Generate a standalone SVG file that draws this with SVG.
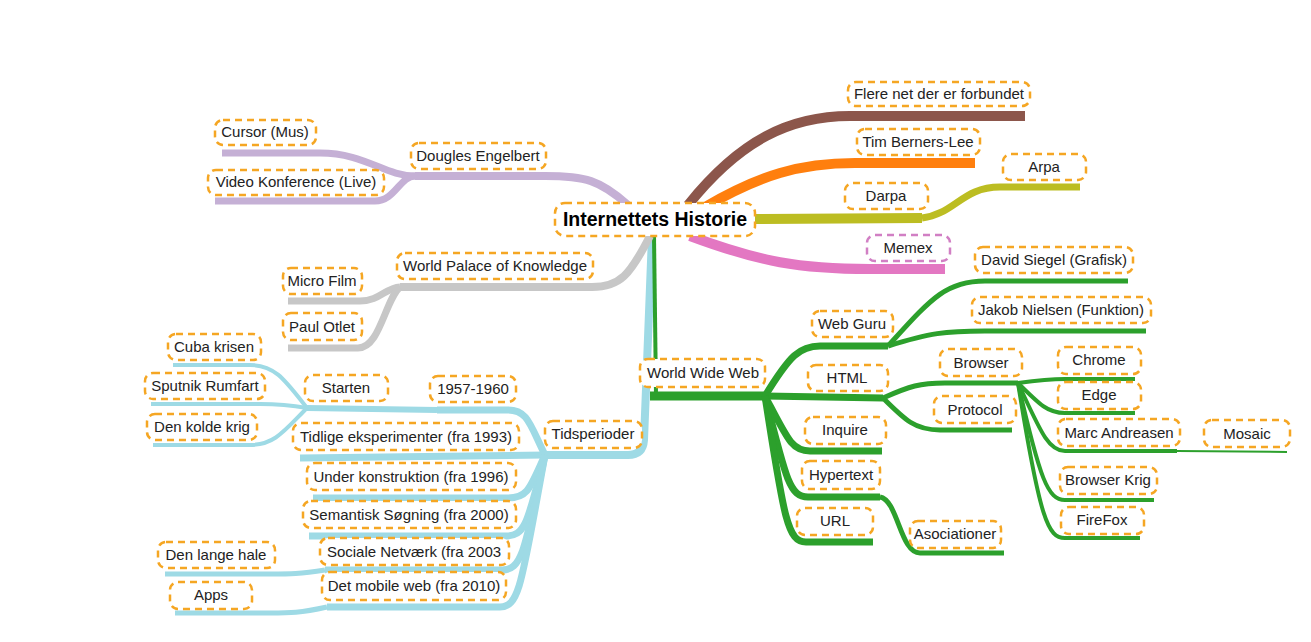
<svg xmlns="http://www.w3.org/2000/svg" width="1311" height="642" viewBox="0 0 1311 642">
<style>
.c path{fill:none;stroke-linecap:butt;stroke-linejoin:round}
.n rect{fill:#fff;stroke:#f5a623;stroke-width:2.5;stroke-dasharray:7 5}
.n text{font-family:"Liberation Sans",Arial,sans-serif;font-size:15px;fill:#222;text-anchor:middle}
.n.pk rect{stroke:#d17fc4}
#root text{font-size:19.5px;font-weight:bold;fill:#000}
.br{stroke:#8c564b}.or{stroke:#ff7f0e}.ol{stroke:#bcbd22}.pi{stroke:#e377c2}
.li{stroke:#c5b0d5}.gr{stroke:#c7c7c7}.lb{stroke:#9edae5}.gn{stroke:#2ca02c}
</style>
<rect width="1311" height="642" fill="#fff"/>
<g class="c" id="connectors">
<path class="lb" stroke-width="8" d="M 652 236 L 644 440 Q 643 455 628 455 L 545 455"/>
<path class="gn" stroke-width="4" d="M 654 236 L 656 394"/>
<path class="gn" stroke-width="9" d="M 650 396 L 765 396"/>
<path class="br" stroke-width="10" d="M 688 205 C 740 140, 790 116, 850 116 L 1025 116"/>
<path class="or" stroke-width="10" d="M 705 207 C 760 175, 800 163, 855 163 L 975 163"/>
<path class="ol" stroke-width="10" d="M 755 219 L 922 218"/>
<path class="ol" stroke-width="7" d="M 922 218 C 955 214, 962 187, 1000 187 L 1080 187"/>
<path class="pi" stroke-width="10" d="M 690 236 C 760 262, 800 269, 870 269 L 945 269"/>
<path class="li" stroke-width="8" d="M 628 205 C 600 180, 585 176, 545 176 L 415 176"/>
<path class="li" stroke-width="7" d="M 415 176 C 385 176, 365 153, 320 153 L 222 153"/>
<path class="li" stroke-width="7" d="M 415 176 C 400 176, 395 201, 375 201 L 215 201"/>
<path class="gr" stroke-width="8" d="M 650 236 C 630 275, 620 287, 592 287 L 400 287"/>
<path class="gr" stroke-width="7" d="M 400 287 C 385 288, 380 301, 360 301 L 288 301"/>
<path class="gr" stroke-width="7" d="M 400 287 C 385 300, 380 348, 358 348 L 288 348"/>
<path class="lb" stroke-width="7" d="M 545 455 C 530 425, 528 410, 508 410 L 437 410"/>
<path class="lb" stroke-width="6" d="M 437 410 L 307 408"/>
<path class="lb" stroke-width="4" d="M 307 408 C 285 380, 275 365, 250 365 L 173 365"/>
<path class="lb" stroke-width="4" d="M 307 408 C 290 405, 280 404, 260 404 L 151 404"/>
<path class="lb" stroke-width="4" d="M 307 408 C 285 430, 275 445, 250 445 L 153 445"/>
<path class="lb" stroke-width="7" d="M 545 455 L 300 458"/>
<path class="lb" stroke-width="7" d="M 545 455 C 530 488, 528 498, 508 498 L 313 498"/>
<path class="lb" stroke-width="7" d="M 545 455 C 528 520, 526 536, 506 536 L 309 536"/>
<path class="lb" stroke-width="7" d="M 545 455 C 525 550, 522 570, 502 570 L 325 570"/>
<path class="lb" stroke-width="5" d="M 325 570 C 300 574, 290 574, 270 574 L 165 574"/>
<path class="lb" stroke-width="7" d="M 545 455 C 522 580, 520 607, 500 607 L 327 607"/>
<path class="lb" stroke-width="5" d="M 327 607 C 300 613, 290 613, 270 613 L 175 613"/>
<path class="gn" stroke-width="7" d="M 765 396 C 790 355, 800 346, 820 346 L 888 346"/>
<path class="gn" stroke-width="5" d="M 888 346 C 930 300, 945 281, 985 281 L 1128 281"/>
<path class="gn" stroke-width="5" d="M 888 346 C 930 333, 945 331, 985 331 L 1146 331"/>
<path class="gn" stroke-width="7" d="M 765 396 L 883 398"/>
<path class="gn" stroke-width="5" d="M 883 398 C 910 386, 920 383, 945 383 L 1018 383"/>
<path class="gn" stroke-width="5" d="M 883 398 C 905 420, 915 430, 940 430 L 1012 430"/>
<path class="gn" stroke-width="4" d="M 1018 383 C 1040 380, 1050 379, 1065 379 L 1135 379"/>
<path class="gn" stroke-width="4" d="M 1018 383 C 1040 405, 1048 413, 1065 413 L 1135 413"/>
<path class="gn" stroke-width="4" d="M 1018 383 C 1040 430, 1048 451, 1065 451 L 1177 451"/>
<path class="gn" stroke-width="2" d="M 1177 451 L 1287 452"/>
<path class="gn" stroke-width="4" d="M 1018 383 C 1040 480, 1048 500, 1065 500 L 1154 500"/>
<path class="gn" stroke-width="4" d="M 1018 383 C 1040 520, 1048 538, 1065 538 L 1140 538"/>
<path class="gn" stroke-width="7" d="M 765 396 C 788 440, 792 451, 810 451 L 882 451"/>
<path class="gn" stroke-width="7" d="M 765 396 C 786 480, 790 497, 808 497 L 880 497"/>
<path class="gn" stroke-width="5" d="M 880 497 C 898 500, 900 553, 920 553 L 1004 553"/>
<path class="gn" stroke-width="7" d="M 765 396 C 784 520, 788 542, 806 542 L 873 542"/>
</g>
<g class="n" id="root"><rect x="555" y="203" width="200" height="33" rx="10"/><text x="655" y="226">Internettets Historie</text></g>
<g class="n" id="n-flere"><rect x="848" y="82" width="182" height="24" rx="8"/><text x="939" y="99">Flere net der er forbundet</text></g>
<g class="n" id="n-tim"><rect x="857" y="129" width="123" height="26" rx="8"/><text x="918" y="147">Tim Berners-Lee</text></g>
<g class="n" id="n-darpa"><rect x="845" y="183" width="83" height="26" rx="8"/><text x="886" y="201">Darpa</text></g>
<g class="n" id="n-arpa"><rect x="1003" y="154" width="83" height="26" rx="8"/><text x="1044" y="172">Arpa</text></g>
<g class="n pk" id="n-memex"><rect x="867" y="235" width="83" height="26" rx="8"/><text x="908" y="253">Memex</text></g>
<g class="n" id="n-dougles"><rect x="411" y="143" width="135" height="26" rx="8"/><text x="478" y="161">Dougles Engelbert</text></g>
<g class="n" id="n-cursor"><rect x="215" y="120" width="101" height="25" rx="8"/><text x="265" y="137">Cursor (Mus)</text></g>
<g class="n" id="n-video"><rect x="208" y="170" width="176" height="25" rx="8"/><text x="296" y="187">Video Konference (Live)</text></g>
<g class="n" id="n-wpk"><rect x="397" y="253" width="196" height="26" rx="8"/><text x="495" y="271">World Palace of Knowledge</text></g>
<g class="n" id="n-micro"><rect x="283" y="268" width="79" height="26" rx="8"/><text x="322" y="286">Micro Film</text></g>
<g class="n" id="n-paul"><rect x="283" y="313" width="79" height="27" rx="8"/><text x="322" y="332">Paul Otlet</text></g>
<g class="n" id="n-tids"><rect x="545" y="421" width="97" height="27" rx="8"/><text x="593" y="439">Tidsperioder</text></g>
<g class="n" id="n-1957"><rect x="430" y="376" width="86" height="26" rx="8"/><text x="473" y="394">1957-1960</text></g>
<g class="n" id="n-starten"><rect x="305" y="375" width="83" height="26" rx="8"/><text x="346" y="393">Starten</text></g>
<g class="n" id="n-cuba"><rect x="168" y="334" width="93" height="26" rx="8"/><text x="214" y="352">Cuba krisen</text></g>
<g class="n" id="n-sputnik"><rect x="145" y="373" width="120" height="26" rx="8"/><text x="205" y="391">Sputnik Rumfart</text></g>
<g class="n" id="n-kolde"><rect x="147" y="414" width="110" height="26" rx="8"/><text x="202" y="432">Den kolde krig</text></g>
<g class="n" id="n-tidlige"><rect x="293" y="423" width="226" height="27" rx="8"/><text x="406" y="442">Tidlige eksperimenter (fra 1993)</text></g>
<g class="n" id="n-under"><rect x="307" y="463" width="209" height="27" rx="8"/><text x="411" y="482">Under konstruktion (fra 1996)</text></g>
<g class="n" id="n-semantisk"><rect x="303" y="501" width="213" height="27" rx="8"/><text x="409" y="520">Semantisk Søgning (fra 2000)</text></g>
<g class="n" id="n-sociale"><rect x="320" y="538" width="189" height="27" rx="8"/><text x="414" y="557">Sociale Netværk (fra 2003</text></g>
<g class="n" id="n-mobile"><rect x="322" y="572" width="184" height="28" rx="8"/><text x="414" y="591">Det mobile web (fra 2010)</text></g>
<g class="n" id="n-hale"><rect x="158" y="542" width="117" height="26" rx="8"/><text x="216" y="560">Den lange hale</text></g>
<g class="n" id="n-apps"><rect x="170" y="582" width="82" height="27" rx="8"/><text x="211" y="600">Apps</text></g>
<g class="n" id="n-www"><rect x="640" y="359" width="125" height="28" rx="8"/><text x="703" y="378">World Wide Web</text></g>
<g class="n" id="n-webguru"><rect x="812" y="311" width="81" height="26" rx="8"/><text x="852" y="329">Web Guru</text></g>
<g class="n" id="n-david"><rect x="975" y="247" width="158" height="26" rx="8"/><text x="1054" y="265">David Siegel (Grafisk)</text></g>
<g class="n" id="n-jakob"><rect x="972" y="297" width="179" height="26" rx="8"/><text x="1061" y="315">Jakob Nielsen (Funktion)</text></g>
<g class="n" id="n-html"><rect x="808" y="365" width="80" height="26" rx="8"/><text x="847" y="383">HTML</text></g>
<g class="n" id="n-browser"><rect x="940" y="349" width="82" height="27" rx="8"/><text x="981" y="368">Browser</text></g>
<g class="n" id="n-protocol"><rect x="934" y="396" width="82" height="27" rx="8"/><text x="975" y="415">Protocol</text></g>
<g class="n" id="n-chrome"><rect x="1058" y="347" width="83" height="27" rx="8"/><text x="1099" y="365">Chrome</text></g>
<g class="n" id="n-edge"><rect x="1058" y="382" width="83" height="27" rx="8"/><text x="1099" y="400">Edge</text></g>
<g class="n" id="n-marc"><rect x="1058" y="419" width="122" height="27" rx="8"/><text x="1119" y="438">Marc Andreasen</text></g>
<g class="n" id="n-mosaic"><rect x="1204" y="420" width="86" height="27" rx="8"/><text x="1247" y="439">Mosaic</text></g>
<g class="n" id="n-krig"><rect x="1060" y="467" width="97" height="27" rx="8"/><text x="1108" y="485">Browser Krig</text></g>
<g class="n" id="n-firefox"><rect x="1061" y="507" width="83" height="27" rx="8"/><text x="1102" y="525">FireFox</text></g>
<g class="n" id="n-inquire"><rect x="805" y="417" width="81" height="27" rx="8"/><text x="845" y="435">Inquire</text></g>
<g class="n" id="n-hypertext"><rect x="802" y="461" width="78" height="28" rx="8"/><text x="841" y="480">Hypertext</text></g>
<g class="n" id="n-url"><rect x="797" y="508" width="76" height="27" rx="8"/><text x="835" y="526">URL</text></g>
<g class="n" id="n-asoc"><rect x="910" y="521" width="91" height="27" rx="8"/><text x="955" y="539">Asociationer</text></g>
</svg>
